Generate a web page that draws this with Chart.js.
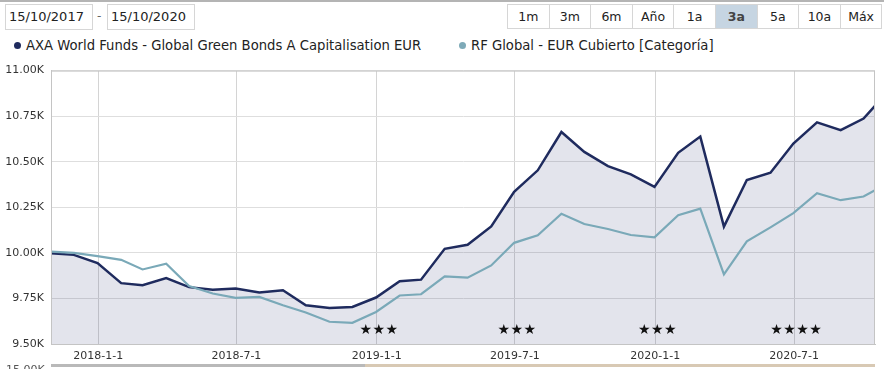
<!DOCTYPE html>
<html>
<head>
<meta charset="utf-8">
<script src="https://cdn.jsdelivr.net/npm/chart.js@4"></script>
<style>
  body { margin: 0; width: 884px; height: 369px; overflow: hidden; background: #fff;
         font-family: "DejaVu Sans", Verdana, sans-serif; color: #222; position: relative; }
  .topline { position: absolute; left: 0; top: 0; width: 884px; height: 2px; background: #b4b4b4; }
  .datebox { position: absolute; top: 4px; height: 24px; border: 1px solid #d6d6d6; font-size: 13px;
             line-height: 24px; padding-left: 3px; box-sizing: content-box; }
  .dash { position: absolute; top: 9px; left: 97px; font-size: 12px; color: #666; }
  .btns { position: absolute; top: 4px; left: 507px; display: flex; border: 1px solid #d6d6d6; height: 23px; }
  .btns div { width: 40.6px; text-align: center; font-size: 12.5px; line-height: 23px; border-left: 1px solid #d6d6d6; }
  .btns div:first-child { border-left: none; }
  .btns .on { background: #c6d5e2; font-weight: bold; color: #444; }
  .legend { position: absolute; top: 38px; font-size: 13.2px; white-space: nowrap; }
  .legend span { display: inline-block; width: 7px; height: 7px; border-radius: 50%; margin-right: 5px; vertical-align: 1px; }
  #wrap { position: absolute; left: 0; top: 57px; width: 884px; height: 309px; }
  .nav { position: absolute; top: 364px; left: 51px; width: 824px; height: 3px;
         background: linear-gradient(to right, #b9b9b9 0 314px, #d8c9b4 314px); }
  .navlbl { position: absolute; top: 363px; left: 6px; font-size: 11px; color: #555; }
</style>
</head>
<body>
<div class="topline"></div>
<div class="datebox" style="left:5px;width:83px">15/10/2017</div>
<div class="dash">-</div>
<div class="datebox" style="left:107px;width:83px">15/10/2020</div>
<div class="btns">
  <div>1m</div><div>3m</div><div>6m</div><div>Año</div><div>1a</div><div class="on">3a</div><div>5a</div><div>10a</div><div>Máx</div>
</div>
<div class="legend" style="left:14px"><span style="background:#1f2b5e"></span>AXA World Funds - Global Green Bonds A Capitalisation EUR</div>
<div class="legend" style="left:459px"><span style="background:#7eaab8"></span>RF Global - EUR Cubierto [Categoría]</div>
<div id="wrap"><canvas id="myChart"></canvas></div>
<div class="navlbl">15.00K</div>
<div class="nav"></div>

<script>
// Fechas (fin de mes) y valores de 10K invertidos
const dates = ['2017-10-31', '2017-11-30', '2017-12-31', '2018-01-31', '2018-02-28', '2018-03-31',
  '2018-04-30', '2018-05-31', '2018-06-30', '2018-07-31', '2018-08-31', '2018-09-30',
  '2018-10-31', '2018-11-30', '2018-12-31', '2019-01-31', '2019-02-28', '2019-03-31',
  '2019-04-30', '2019-05-31', '2019-06-30', '2019-07-31', '2019-08-31', '2019-09-30',
  '2019-10-31', '2019-11-30', '2019-12-31', '2020-01-31', '2020-02-29', '2020-03-31',
  '2020-04-30', '2020-05-31', '2020-06-30', '2020-07-31', '2020-08-31', '2020-09-30', '2020-10-15'];

const axaValues = [9998, 9989, 9944, 9834, 9822, 9862, 9812, 9798, 9804, 9782, 9795, 9713,
  9698, 9703, 9755, 9844, 9853, 10022, 10044, 10145, 10335, 10453, 10663, 10554,
  10476, 10431, 10362, 10549, 10638, 10144, 10400, 10440, 10600, 10716, 10673, 10737, 10807];

const rfValues = [10007, 10000, 9982, 9962, 9909, 9940, 9818, 9777, 9753, 9758, 9713, 9673,
  9622, 9616, 9676, 9766, 9773, 9871, 9864, 9931, 10055, 10096, 10215, 10158,
  10131, 10098, 10085, 10207, 10243, 9882, 10063, 10140, 10218, 10327, 10289, 10309, 10344];

const tickLabels = ['2018-1-1', '2018-7-1', '2019-1-1', '2019-7-1', '2020-1-1', '2020-7-1'];

// Estrellas Morningstar
const ratingDates = ['2019-1-1', '2019-7-1', '2020-1-1', '2020-7-1'];
const ratingStars = [3, 3, 3, 4];

// Fecha -> dias
function toDay(s) {
  const p = s.split('-').map(Number);
  return Date.UTC(p[0], p[1] - 1, p[2]) / 86400000;
}

const xs = dates.map(toDay);
const tickDays = tickLabels.map(toDay);

const starsPlugin = {
  id: 'stars',
  afterDatasetsDraw(chart) {
    const ctx = chart.ctx;
    const x = chart.scales.x;
    const y = chart.chartArea.bottom - 14;
    ctx.save();
    ctx.fillStyle = '#111';
    ctx.font = '14px "DejaVu Sans"';
    ctx.textAlign = 'center';
    ctx.textBaseline = 'middle';
    ratingDates.forEach((d, i) => {
      const cx = x.getPixelForValue(toDay(d)) + 2;
      const n = ratingStars[i];
      for (let k = 0; k < n; k++) {
        ctx.fillText('★', cx + (k - (n - 1) / 2) * 13, y);
      }
    });
    ctx.restore();
  },
  afterDraw(chart) {
    const a = chart.chartArea;
    const ctx = chart.ctx;
    ctx.save();
    ctx.strokeStyle = '#c4c4c4';
    ctx.lineWidth = 1;
    ctx.strokeRect(a.left + 0.5, a.top + 0.5, a.right - a.left - 1, a.bottom - a.top);
    ctx.restore();
  }
};

const ctx = document.getElementById('myChart').getContext('2d');
Chart.defaults.font.family = '"DejaVu Sans", Verdana, sans-serif';

new Chart(ctx, {
  type: 'line',
  data: {
    datasets: [
      {
        label: 'RF Global - EUR Cubierto [Categoría]',
        data: xs.map((d, i) => ({ x: d, y: rfValues[i] })),
        borderColor: '#7aa9b8',
        borderWidth: 2.2,
        pointRadius: 0,
        fill: false,
        tension: 0
      },
      {
        label: 'AXA World Funds - Global Green Bonds A Capitalisation EUR',
        data: xs.map((d, i) => ({ x: d, y: axaValues[i] })),
        borderColor: '#1f2b5e',
        borderWidth: 2.5,
        pointRadius: 0,
        fill: 'start',
        backgroundColor: 'rgba(60, 65, 120, 0.14)',
        tension: 0
      }
    ]
  },
  options: {
    responsive: true,
    maintainAspectRatio: false,
    animation: false,
    layout: { padding: { top: 6, right: 9, left: 0, bottom: 0 } },
    scales: {
      x: {
        type: 'linear',
        min: xs[0],
        max: xs[xs.length - 1],
        afterBuildTicks: s => { s.ticks = tickDays.map(v => ({ value: v })); },
        afterFit: s => { s.height = 22; },
        ticks: {
          callback: v => tickLabels[tickDays.indexOf(v)],
          color: '#333',
          font: { size: 11 },
          padding: 6,
          maxRotation: 0,
          autoSkip: false
        },
        grid: { color: '#d4d4d4', drawTicks: false },
        border: { color: '#c4c4c4' }
      },
      y: {
        min: 9500,
        max: 11000,
        afterFit: s => { s.width = 51; },
        ticks: {
          stepSize: 250,
          callback: v => (v / 1000).toFixed(2) + 'K',
          color: '#333',
          font: { size: 11 },
          padding: 7
        },
        grid: { color: '#dedede', drawTicks: false },
        border: { color: '#c4c4c4' }
      }
    },
    plugins: {
      legend: { display: false },
      tooltip: { enabled: false }
    }
  },
  plugins: [starsPlugin]
});
</script>
</body>
</html>
